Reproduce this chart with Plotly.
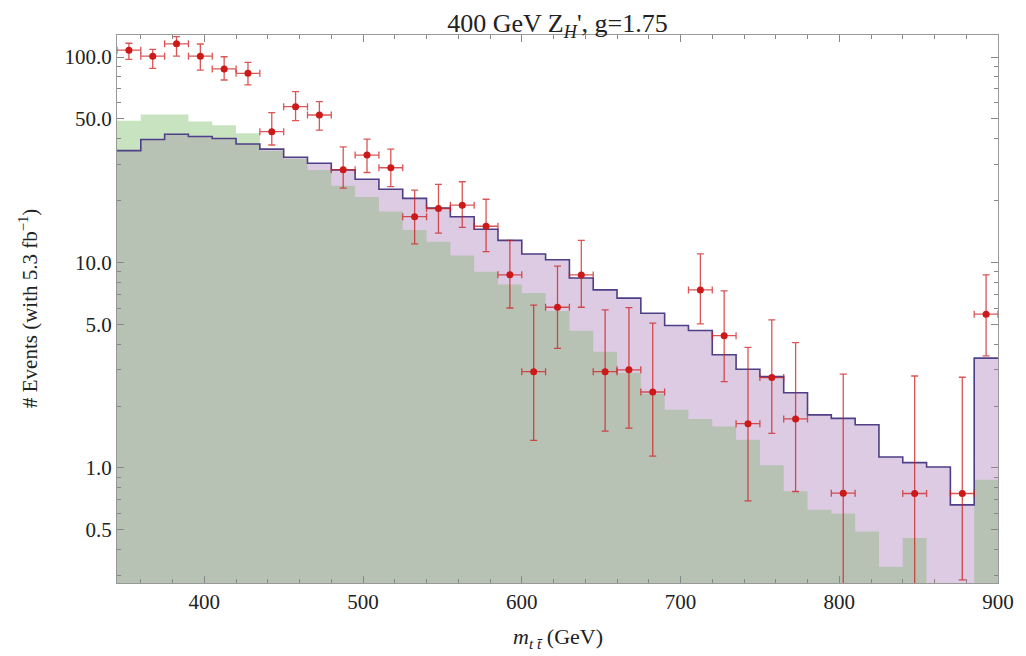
import numpy as np
import plotly.graph_objects as go

# ---- data ----
bin_lo = 345.0
bin_w = 15.0
n_bins = 37
bin_edges = [bin_lo + bin_w * k for k in range(n_bins + 1)]
bin_centers = [bin_lo + bin_w * (k + 0.5) for k in range(n_bins)]

# SM background (green histogram)
background = [49, 52.5, 52.5, 48.5, 46.5, 42.5, 35.0, 32.0, 28.2, 23.6,
              20.8, 17.7, 14.4, 12.6, 10.8, 9.0, 7.8, 7.1, 5.8, 4.65,
              3.67, 2.9, 2.3, 1.92, 1.73, 1.59, 1.37, 1.03, 0.77, 0.625,
              0.60, 0.49, 0.33, 0.455, 0.2, 0.2, 0.875]

# SM + Z'_H (purple histogram)
signal_total = [35.0, 39.7, 42.1, 41.0, 40.1, 37.7, 35.6, 32.5, 30.4, 28.2,
                25.4, 22.7, 20.5, 18.4, 16.7, 14.5, 12.8, 11.0, 10.3, 8.4,
                7.35, 6.7, 5.66, 4.93, 4.66, 3.55, 3.02, 2.78, 2.32, 1.81,
                1.74, 1.62, 1.13, 1.06, 1.01, 0.66, 3.42]

# observed data (None = empty bin)
data_val = [108, 101, 116, 101, 87.5, 83.3, 43.3, 57.3, 52.2, 28.3,
            33.3, 28.9, 16.7, 18.3, 19.0, 15.0, 8.7, 2.94, 6.05, 8.69,
            2.94, 3.0, 2.34, None, 7.35, 4.40, 1.64, 2.75, 1.73, None,
            0.753, None, None, 0.75, None, 0.75, 5.6]
data_hi = [116.7, 109, 125.6, 115.7, 100.3, 94.2, 53.6, 67.8, 60.6, 36.5,
           39.8, 35.6, 22.5, 24.0, 24.7, 20.3, 12.8, 6.2, 9.6, 12.8,
           5.87, 6.03, 5.06, None, 11.0, 7.27, 3.86, 5.25, 4.07, None,
           2.86, None, None, 2.80, None, 2.76, 8.69]
data_lo = [97.5, 88, 101, 86.4, 77.3, 73.1, 37.3, 49.0, 44.1, 23.0,
           27.4, 23.4, 12.3, 13.9, 14.8, 11.3, 6.0, 1.36, 3.82, 6.05,
           1.51, 1.56, 1.14, None, 5.02, 2.63, 0.69, 1.47, 0.767, None,
           0.01, None, None, 0.01, None, 0.285, 3.51]

x_ticks = [400, 500, 600, 700, 800, 900]
y_ticks = [0.5, 1.0, 5.0, 10.0, 50.0, 100.0]
y_tick_text = ["0.5", "1.0", "5.0", "10.0", "50.0", "100.0"]

title_text = "400 GeV Z<sub><i>H</i></sub>', g=1.75"
x_title = "<i>m</i><sub><i>t</i> <i>t\u0304</i></sub> (GeV)"
y_title = "# Events (with 5.3 fb<sup>\u22121</sup>)"

# ---- styling ----
GREEN = "#c7e3c0"
PURPLE = "#dccbe3"
OVERLAP = "#b7c1b4"
LINE = "#4e3f86"
RED = "#cc1a1a"
FONT = "Liberation Serif"

def steps(vals):
    return list(vals) + [vals[-1]]

overlap = [min(a, b) for a, b in zip(background, signal_total)]
baseline = [1e-3] * (n_bins + 1)

fig = go.Figure()

def filled(vals, color):
    fig.add_trace(go.Scatter(x=bin_edges, y=baseline, mode="lines", line=dict(width=0),
                             line_shape="hv", hoverinfo="skip", showlegend=False))
    fig.add_trace(go.Scatter(x=bin_edges, y=steps(vals), mode="lines", line=dict(width=0),
                             line_shape="hv", fill="tonexty", fillcolor=color,
                             hoverinfo="skip", showlegend=False))

filled(background, GREEN)
filled(signal_total, PURPLE)
filled(overlap, OVERLAP)

fig.add_trace(go.Scatter(x=bin_edges, y=steps(signal_total), mode="lines",
                         line=dict(color=LINE, width=1.6), line_shape="hv",
                         showlegend=False))

plus = [(h - v) if v is not None else 0 for v, h in zip(data_val, data_hi)]
minus = [(v - l) if v is not None else 0 for v, l in zip(data_val, data_lo)]

fig.add_trace(go.Scatter(
    x=bin_centers, y=data_val, mode="markers",
    marker=dict(color=RED, size=7),
    error_y=dict(type="data", symmetric=False, array=plus, arrayminus=minus,
                 color="rgba(205,30,30,0.75)", thickness=1.3, width=3.5),
    error_x=dict(type="constant", value=bin_w / 2,
                 color="rgba(205,30,30,0.75)", thickness=1.3, width=3.5),
    showlegend=False))

minor_y = []
for dec in [0.1, 1, 10, 100]:
    for m in range(2, 10):
        v = round(m * dec, 6)
        if v not in y_ticks:
            minor_y.append(v)

axis_common = dict(showline=True, linecolor="#999999", linewidth=1, mirror="ticks",
                   ticks="inside", tickcolor="#888888", showgrid=False, zeroline=False,
                   tickfont=dict(family=FONT, size=21, color="#222222"))

fig.update_layout(
    width=1026, height=656,
    margin=dict(l=117, r=28, t=35, b=73),
    paper_bgcolor="white", plot_bgcolor="white",
    font=dict(family=FONT, color="#222222"),
    title=dict(text=title_text, x=0.5, xref="paper", xanchor="center",
               y=1 - 23 / 656, yref="container", yanchor="middle",
               font=dict(family=FONT, size=26, color="#222222")),
    xaxis=dict(range=[bin_edges[0], bin_edges[-1]], tickvals=x_ticks, ticklen=7,
               minor=dict(dtick=20, tick0=0, ticks="inside", ticklen=4, tickcolor="#888888"),
               **axis_common),
    yaxis=dict(type="log", range=[np.log10(0.275), np.log10(128)],
               tickvals=y_ticks, ticktext=y_tick_text, ticklen=7,
               minor=dict(tickmode="array", tickvals=minor_y, ticks="inside",
                          ticklen=4, tickcolor="#888888"),
               **axis_common),
    annotations=[
        dict(text=x_title, xref="paper", yref="paper", x=0.5, y=(583 - 638) / 548,
             xanchor="center", yanchor="middle", showarrow=False,
             font=dict(family=FONT, size=22, color="#222222")),
        dict(text=y_title, xref="paper", yref="paper", x=(28 - 117) / 881, y=0.5,
             xanchor="center", yanchor="middle", textangle=-90, showarrow=False,
             font=dict(family=FONT, size=21, color="#222222")),
    ],
)

fig.write_html("out.html", config={"displayModeBar": False},
               post_script="document.body.style.margin='0px';")
